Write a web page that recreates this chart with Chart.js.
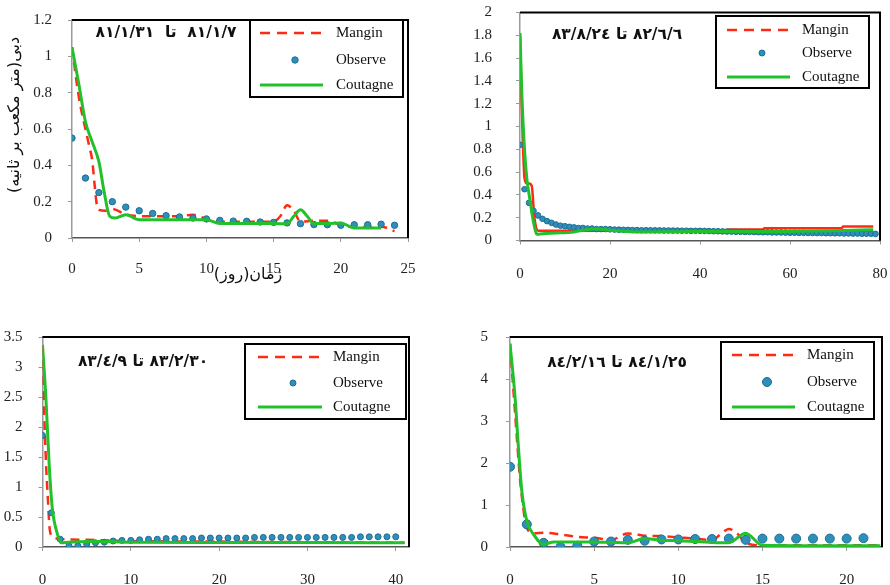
<!DOCTYPE html>
<html>
<head>
<meta charset="utf-8">
<script src="https://cdn.jsdelivr.net/npm/chart.js@4.4.1/dist/chart.umd.min.js"></script>
<style>
  body { margin: 0; background: #fff; width: 890px; height: 585px; overflow: hidden; position: relative; }
  canvas { position: absolute; }
</style>
</head>
<body>
<canvas id="c1" width="440" height="295" style="left:0;top:0"></canvas>
<canvas id="c2" width="440" height="295" style="left:450px;top:0"></canvas>
<canvas id="c3" width="440" height="290" style="left:0;top:300px"></canvas>
<canvas id="c4" width="440" height="290" style="left:450px;top:300px"></canvas>
<script>
// ---- data (observe values are at day 0,1,2,...) ----
const obs1 = [0.55, 0.33, 0.25, 0.20, 0.17, 0.15, 0.135, 0.123, 0.116, 0.11, 0.105, 0.097, 0.093, 0.092, 0.088, 0.086, 0.083, 0.079, 0.074, 0.073, 0.07, 0.073, 0.073, 0.076, 0.07];
const mangin1X = [0, 0.5, 1, 1.3, 1.5, 1.7, 1.85, 2, 2.5, 3, 4, 5, 6, 7, 8, 9, 10, 11, 12, 13, 14, 15, 15.5, 16, 16.5, 17, 18, 19, 20, 21, 22, 23, 24];
const mangin1Y = [1.05, 0.78, 0.6, 0.5, 0.43, 0.28, 0.18, 0.155, 0.15, 0.16, 0.13, 0.12, 0.12, 0.12, 0.12, 0.128, 0.105, 0.09, 0.09, 0.09, 0.09, 0.09, 0.12, 0.18, 0.15, 0.09, 0.095, 0.095, 0.072, 0.06, 0.06, 0.062, 0.038];
const cout1X = [0, 0.5, 1, 1.5, 2, 2.4, 2.8, 3.2, 4, 5, 6, 7, 8, 9, 10, 11, 12, 13, 14, 15, 16, 16.5, 17, 17.5, 18, 19, 20, 21, 22, 23];
const cout1Y = [1.05, 0.85, 0.64, 0.53, 0.42, 0.25, 0.12, 0.11, 0.128, 0.10, 0.10, 0.10, 0.10, 0.10, 0.10, 0.08, 0.08, 0.08, 0.08, 0.08, 0.078, 0.12, 0.155, 0.12, 0.08, 0.08, 0.082, 0.055, 0.055, 0.055];

const obs2 = [0.84, 0.45, 0.33, 0.26, 0.22, 0.19, 0.17, 0.155, 0.14, 0.13,
  0.125, 0.12, 0.115, 0.11, 0.11, 0.105, 0.105, 0.10, 0.10, 0.10,
  0.098, 0.096, 0.095, 0.094, 0.093, 0.092, 0.091, 0.09, 0.09, 0.09,
  0.089, 0.089, 0.088, 0.088, 0.087, 0.087, 0.086, 0.086, 0.085, 0.085,
  0.085, 0.084, 0.083, 0.082, 0.081, 0.08, 0.079, 0.078, 0.077, 0.076,
  0.075, 0.075, 0.074, 0.073, 0.072, 0.072, 0.071, 0.07, 0.07, 0.069,
  0.068, 0.068, 0.067, 0.067, 0.066, 0.066, 0.065, 0.065, 0.064, 0.064,
  0.063, 0.063, 0.062, 0.062, 0.061, 0.061, 0.06, 0.06, 0.06, 0.058];
const mangin2X = [0, 0.3, 0.6, 1, 1.5, 2, 2.6, 3.2, 4, 10, 20, 30, 46, 46.3, 54, 54.3, 71.5, 71.8, 78.5];
const mangin2Y = [1.8, 1.3, 0.9, 0.55, 0.5, 0.5, 0.48, 0.2, 0.085, 0.085, 0.085, 0.085, 0.085, 0.097, 0.097, 0.108, 0.108, 0.122, 0.122];
const cout2X = [0, 0.4, 1, 1.5, 2.2, 3, 3.8, 5, 8, 12, 14, 17, 20, 27, 40, 50, 60, 70, 78.5];
const cout2Y = [1.82, 1.3, 0.8, 0.55, 0.36, 0.16, 0.055, 0.06, 0.065, 0.075, 0.09, 0.10, 0.09, 0.075, 0.078, 0.078, 0.08, 0.085, 0.095];

const obs3 = [1.86, 0.57, 0.13, 0.02, 0.02, 0.05, 0.07, 0.08, 0.10, 0.11,
  0.11, 0.12, 0.13, 0.13, 0.14, 0.14, 0.14, 0.14, 0.15, 0.15,
  0.15, 0.15, 0.15, 0.15, 0.16, 0.16, 0.16, 0.16, 0.16, 0.16,
  0.16, 0.16, 0.16, 0.16, 0.16, 0.16, 0.17, 0.17, 0.17, 0.17, 0.17];
const mangin3X = [0, 0.2, 0.4, 0.6, 0.8, 1.1, 1.7, 2.5, 5, 10, 20, 30, 41];
const mangin3Y = [3.35, 2.2, 1.39, 0.83, 0.32, 0.18, 0.14, 0.13, 0.12, 0.10, 0.09, 0.08, 0.07];
const cout3X = [0, 0.38, 0.75, 1.1, 1.7, 2.1, 3, 5, 7, 10, 20, 30, 41];
const cout3Y = [3.37, 2.5, 1.39, 0.66, 0.21, 0.07, 0.08, 0.09, 0.09, 0.08, 0.075, 0.075, 0.07];

const obs4 = [1.91, 0.54, 0.10, 0.0, 0.03, 0.13, 0.13, 0.17, 0.15, 0.18, 0.18, 0.19, 0.19, 0.2, 0.17, 0.2, 0.2, 0.2, 0.2, 0.2, 0.2, 0.21];
const mangin4X = [0, 0.3, 0.6, 0.85, 1, 1.4, 2, 3, 4, 5, 6, 7, 7.5, 8, 9, 10, 11, 12, 12.5, 13, 13.5, 14, 15, 18, 22];
const mangin4Y = [4.84, 3.2, 1.6, 0.75, 0.46, 0.33, 0.34, 0.3, 0.24, 0.22, 0.17, 0.32, 0.3, 0.27, 0.26, 0.23, 0.2, 0.16, 0.3, 0.43, 0.32, 0.1, 0.04, 0.04, 0.04];
const cout4X = [0, 0.3, 0.5, 0.7, 1, 1.4, 2, 2.6, 3, 4, 5, 6, 7, 8, 9, 10, 11, 12, 13, 14, 15, 18, 22];
const cout4Y = [4.84, 3.57, 2.37, 1.34, 0.62, 0.3, 0.06, 0.12, 0.12, 0.12, 0.12, 0.11, 0.1, 0.2, 0.16, 0.15, 0.13, 0.11, 0.1, 0.33, 0.04, 0.03, 0.03];

const seriesNames = ['Mangin', 'Observe', 'Coutagne'];
const titles = ['٨١/١/٧  تا  ٨١/١/٣١', '٨٢/٦/٦ تا ٨٣/٨/٢٤', '٨٣/٢/٣٠ تا ٨٣/٤/٩', '٨٤/١/٢٥ تا ٨٤/٢/١٦'];
const yTitle = 'دبی(متر مکعب بر ثانیه)';
const xTitle = 'زمان(روز)';

const RED = '#ff2a14';
const GREEN = '#22c12c';
const BLUE = '#2f8fbb';
const SERIF = '"Liberation Serif", "Times New Roman", serif';
const FA = '"DejaVu Sans", sans-serif';

const toXY = (xs, ys) => xs.map((x, i) => ({ x: x, y: ys[i] }));
const byDay = ys => ys.map((y, i) => ({ x: i, y: y }));

// draws plot frame, in-plot title, legend box and axis titles
const decor = {
  id: 'decor',
  afterDatasetsDraw(chart, args, o) {
    const ctx = chart.ctx;
    const a = chart.chartArea;
    ctx.save();
    ctx.strokeStyle = '#000';
    ctx.lineWidth = 2;
    ctx.beginPath();
    ctx.moveTo(a.left, a.top);
    ctx.lineTo(a.right, a.top);
    ctx.lineTo(a.right, a.bottom);
    ctx.stroke();

    // title
    ctx.fillStyle = '#111';
    ctx.font = 'bold 15.5px ' + FA;
    ctx.direction = 'rtl';
    ctx.textAlign = 'center';
    ctx.textBaseline = 'middle';
    ctx.fillText(o.title, o.titleX, o.titleY);
    ctx.direction = 'ltr';

    // legend
    const b = o.box;
    ctx.fillStyle = '#fff';
    ctx.fillRect(b[0], b[1], b[2] - b[0], b[3] - b[1]);
    ctx.strokeStyle = '#000';
    ctx.lineWidth = 2;
    ctx.strokeRect(b[0], b[1], b[2] - b[0], b[3] - b[1]);

    ctx.strokeStyle = RED;
    ctx.lineWidth = 2.5;
    ctx.setLineDash([10, 7]);
    ctx.beginPath();
    ctx.moveTo(o.lineX[0], o.rows[0]);
    ctx.lineTo(o.lineX[1], o.rows[0]);
    ctx.stroke();
    ctx.setLineDash([]);

    ctx.fillStyle = BLUE;
    ctx.strokeStyle = '#1d6d93';
    ctx.lineWidth = 1;
    ctx.beginPath();
    ctx.arc(o.markerX, o.rows[1], o.markerR, 0, Math.PI * 2);
    ctx.fill();
    ctx.stroke();

    ctx.strokeStyle = GREEN;
    ctx.lineWidth = 3;
    ctx.beginPath();
    ctx.moveTo(o.lineX[0], o.rows[2]);
    ctx.lineTo(o.lineX[1], o.rows[2]);
    ctx.stroke();

    ctx.fillStyle = '#111';
    ctx.font = '15px ' + SERIF;
    ctx.textAlign = 'left';
    seriesNames.forEach((n, i) => ctx.fillText(n, o.textX, o.rows[i]));

    // axis titles (first panel only)
    if (o.axisTitles) {
      ctx.font = '16px ' + FA;
      ctx.textAlign = 'center';
      ctx.direction = 'rtl';
      ctx.fillText(xTitle, 248, 275);
      ctx.translate(15, 115);
      ctx.rotate(-Math.PI / 2);
      ctx.fillText(yTitle, 0, 0);
    }
    ctx.restore();
  }
};

function makePanel(id, p) {
  const datasets = [
    { label: 'Coutagne', data: toXY(p.cx, p.cy), borderColor: GREEN, borderWidth: 3, pointRadius: 0, showLine: true, cubicInterpolationMode: 'monotone', order: 1 },
    { label: 'Observe', data: byDay(p.obs), showLine: false, pointRadius: p.r, pointBackgroundColor: BLUE, pointBorderColor: '#1d6d93', pointBorderWidth: 1, order: 2 },
    { label: 'Mangin', data: toXY(p.mx, p.my), borderColor: RED, borderWidth: 2.5, borderDash: p.dash, pointRadius: 0, showLine: true, cubicInterpolationMode: 'monotone', order: 3 }
  ];
  return new Chart(document.getElementById(id), {
    type: 'scatter',
    data: { datasets: datasets },
    options: {
      responsive: false,
      animation: false,
      devicePixelRatio: 1,
      layout: { padding: p.pad },
      plugins: {
        legend: { display: false },
        tooltip: { enabled: false },
        decor: p.decor
      },
      scales: {
        x: {
          type: 'linear', min: 0, max: p.xMax,
          ticks: { stepSize: p.xStep, includeBounds: false, autoSkip: false, padding: p.xPad, color: '#222', maxRotation: 0, font: { family: SERIF, size: 15 } },
          grid: { drawOnChartArea: false, tickLength: 4, color: '#999' },
          border: { color: '#555', width: 1.5 },
          afterFit: s => { s.height = p.xH; s.paddingLeft = 0; s.paddingRight = 0; }
        },
        y: {
          type: 'linear', min: 0, max: p.yMax,
          ticks: { stepSize: p.yStep, autoSkip: false, padding: p.yPad, color: '#222', font: { family: SERIF, size: 15 },
            callback: v => String(+v.toFixed(2)) },
          grid: { drawOnChartArea: false, tickLength: 4, color: '#999' },
          border: { color: '#9a9a9a', width: 1.5 },
          afterFit: s => { s.width = p.yW; s.paddingTop = 0; s.paddingBottom = 0; }
        }
      }
    },
    plugins: [decor]
  });
}

makePanel('c1', {
  obs: obs1, mx: mangin1X, my: mangin1Y, cx: cout1X, cy: cout1Y, r: 3.2, dash: [9, 6],
  xMax: 25, xStep: 5, yMax: 1.2, yStep: 0.2,
  pad: { left: 0, right: 32, top: 20, bottom: 0 }, yW: 72, xH: 57, xPad: 18, yPad: 16,
  decor: { title: titles[0], titleX: 166, titleY: 33, box: [250, 20, 403, 97], rows: [33, 60, 85], lineX: [260, 323], markerX: 295, markerR: 3.2, textX: 336, axisTitles: true }
});
makePanel('c2', {
  obs: obs2, mx: mangin2X, my: mangin2Y, cx: cout2X, cy: cout2Y, r: 2.8, dash: [],
  xMax: 80, xStep: 20, yMax: 2, yStep: 0.2,
  pad: { left: 0, right: 10, top: 12.5, bottom: 0 }, yW: 70, xH: 54.5, xPad: 21, yPad: 24,
  decor: { title: titles[1], titleX: 167, titleY: 35, box: [266, 16, 419, 88], rows: [30, 53, 77], lineX: [277, 340], markerX: 312, markerR: 3, textX: 352 }
});
makePanel('c3', {
  obs: obs3, mx: mangin3X, my: mangin3Y, cx: cout3X, cy: cout3Y, r: 3, dash: [9, 6],
  xMax: 41.5, xStep: 10, yMax: 3.5, yStep: 0.5,
  pad: { left: 0, right: 31, top: 37, bottom: 0 }, yW: 42.5, xH: 43, xPad: 20, yPad: 16,
  decor: { title: titles[2], titleX: 143, titleY: 62, box: [245, 44, 406, 119], rows: [57, 83, 107], lineX: [258, 322], markerX: 293, markerR: 3, textX: 333 }
});
makePanel('c4', {
  obs: obs4, mx: mangin4X, my: mangin4Y, cx: cout4X, cy: cout4Y, r: 4.5, dash: [9, 6],
  xMax: 22.1, xStep: 5, yMax: 5, yStep: 1,
  pad: { left: 0, right: 8, top: 37, bottom: 0 }, yW: 60, xH: 43, xPad: 20, yPad: 18,
  decor: { title: titles[3], titleX: 167, titleY: 63, box: [271, 42, 424, 119], rows: [55, 82, 107], lineX: [282, 345], markerX: 317, markerR: 4.5, textX: 357 }
});
</script>
</body>
</html>
